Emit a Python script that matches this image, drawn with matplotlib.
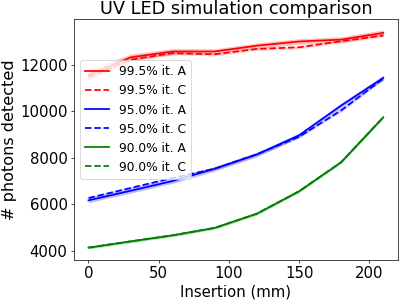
import numpy as np
import matplotlib
matplotlib.use('Agg')
import matplotlib.pyplot as plt

# insertion positions (mm)
insertion = [0, 30, 60, 90, 120, 150, 180, 210]

# photons detected, iteration A (solid) and C (dashed)
red_a = [11550, 12310, 12560, 12560, 12810, 12990, 13070, 13360]
red_c = [11460, 12210, 12490, 12440, 12670, 12740, 13000, 13250]
blue_a = [6170, 6580, 7000, 7530, 8140, 8960, 10240, 11430]
blue_c = [6270, 6700, 7130, 7530, 8150, 8900, 10030, 11400]
green_a = [4140, 4410, 4670, 4990, 5600, 6560, 7810, 9740]
green_c = [4140, 4410, 4670, 4990, 5600, 6560, 7810, 9740]

# spread of iteration A
red_err = [220, 140, 130, 120, 120, 120, 120, 130]
blue_err = [100, 100, 100, 100, 100, 100, 110, 110]
green_err = [60, 60, 60, 60, 60, 60, 60, 60]

plt.rcParams['font.size'] = 17

fig = plt.figure(figsize=(6.4, 4.8), dpi=62.95)
ax = fig.add_subplot(111)
fig.subplots_adjust(left=0.183, right=0.988, bottom=0.139, top=0.937)

series = [
    ('red', '99.5%', red_a, red_c, red_err),
    ('blue', '95.0%', blue_a, blue_c, blue_err),
    ('green', '90.0%', green_a, green_c, green_err),
]

x = np.array(insertion)
for col, lab, a, c, err in series:
    a = np.array(a)
    c = np.array(c)
    err = np.array(err)
    ax.plot(x, a, color=col, ls='-', lw=2, label='%s it. A' % lab)
    ax.fill_between(x, a - err, a + err, color=col, alpha=0.25, lw=0)
    ax.plot(x, c, color=col, ls='--', lw=2, label='%s it. C' % lab)
    ax.fill_between(x, c - err * 0.6, c + err * 0.6, color=col, alpha=0.15, lw=0)

ax.set_xticks([0, 50, 100, 150, 200])
ax.set_yticks([4000, 6000, 8000, 10000, 12000])
ax.set_xlabel('Insertion (mm)')
ax.set_ylabel('# photons detected', fontsize=18.5)
ax.set_title('UV LED simulation comparison')
ax.legend(loc='center left', bbox_to_anchor=(0, 0.583), fontsize=14)

plt.savefig('out.png', dpi=62.95)
